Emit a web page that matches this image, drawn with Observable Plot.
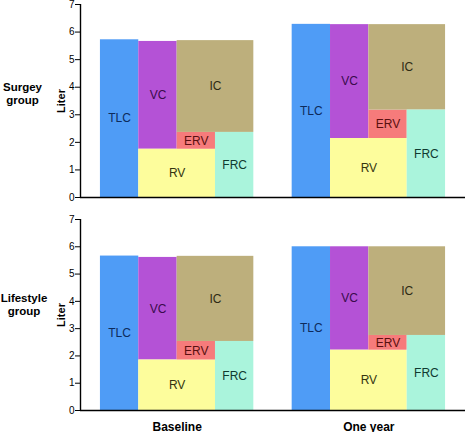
<!DOCTYPE html>
<html>
<head>
<meta charset="utf-8">
<script src="https://cdn.jsdelivr.net/npm/d3@7"></script>
<script src="https://cdn.jsdelivr.net/npm/@observablehq/plot@0.6"></script>
<style>
  html, body { margin: 0; padding: 0; background: #fff; }
  #chart svg { display: block; }
</style>
</head>
<body>
<div id="chart"></div>
<script>
// ---- data ----
const panels = ["Surgey\ngroup", "Lifestyle\ngroup"];
const times = ["Baseline", "One year"];
const volumeNames = ["TLC", "VC", "IC", "ERV", "RV", "FRC"];
const yTicks = [0, 1, 2, 3, 4, 5, 6, 7];
// values indexed [panel][time], litres
const TLC = [[5.72, 6.28], [5.66, 6.00]];
const VC  = [[3.91, 4.13], [3.76, 3.79]];
const IC  = [[3.33, 3.10], [3.12, 3.25]];
const ERV = [[0.61, 1.03], [0.68, 0.54]];
const RV  = [[1.75, 2.14], [1.85, 2.21]];

// ---- styles ----
const fill = {TLC: "#4f9cf6", VC: "#b452d6", IC: "#bdaf7c", ERV: "#f67b7b", RV: "#fdfd9c", FRC: "#aaf4dc"};
const ink  = {TLC: "#0d2b5c", VC: "#3a0b4c", IC: "#2d2a14", ERV: "#5a1010", RV: "#34340f", FRC: "#0f3a30"};
const font = "Liberation Sans, Arial, Helvetica, sans-serif";
const xDomain = [-0.52, 9.52];

function segments(p) {
  const rows = [];
  times.forEach((t, i) => {
    const o = i * 5;
    const rv = RV[p][i], erv = ERV[p][i], ic = IC[p][i], vc = VC[p][i], tlc = TLC[p][i];
    rows.push({name: "TLC", x1: o,     x2: o + 1, y1: 0,        y2: tlc});
    rows.push({name: "VC",  x1: o + 1, x2: o + 2, y1: rv,       y2: rv + vc});
    rows.push({name: "RV",  x1: o + 1, x2: o + 3, y1: 0,        y2: rv});
    rows.push({name: "ERV", x1: o + 2, x2: o + 3, y1: rv,       y2: rv + erv});
    rows.push({name: "IC",  x1: o + 2, x2: o + 4, y1: rv + erv, y2: rv + erv + ic});
    rows.push({name: "FRC", x1: o + 3, x2: o + 4, y1: 0,        y2: rv + erv});
  });
  return rows;
}

function panel(p, opts) {
  const segs = segments(p);
  const marks = [
    Plot.rectY(segs, {x1: "x1", x2: "x2", y1: "y1", y2: "y2", fill: d => fill[d.name], inset: 0}),
    Plot.text(segs, {
      x: d => (d.x1 + d.x2) / 2, y: d => (d.y1 + d.y2) / 2, text: "name",
      fill: d => ink[d.name], fontSize: 12, fontFamily: font
    }),
    Plot.ruleY([0], {stroke: "#000", strokeWidth: 1.4}),
    Plot.ruleX([xDomain[0]], {y1: 0, y2: 7, stroke: "#000", strokeWidth: 1.4}),
    Plot.axisY({ticks: yTicks, tickFormat: d3.format("d"), tickSize: 5, tickPadding: 1, fontSize: 10, fontFamily: font, label: null, stroke: "#000", fill: "#000"}),
    Plot.text(["Liter"], {frameAnchor: "left", textAnchor: "middle", dx: -19, rotate: -90, fontSize: 11, fontWeight: "bold", fontFamily: font, fill: "#000"}),
    Plot.text([panels[p]], {frameAnchor: "left", textAnchor: "middle", dx: opts.labelDx, dy: opts.labelDy, fontSize: 11.5, fontWeight: "bold", fontFamily: font, lineHeight: 1.12, fill: "#000"})
  ];
  if (opts.xLabels) {
    marks.push(Plot.text(times, {
      x: (d, i) => i * 5 + 2, frameAnchor: "bottom", lineAnchor: "top", dy: 11.5,
      fontSize: 12, fontWeight: "bold", fontFamily: font, fill: "#000"
    }));
  }
  return Plot.plot({
    width: 465,
    height: opts.height,
    marginTop: opts.marginTop,
    marginBottom: opts.marginBottom,
    marginLeft: 80,
    marginRight: 0,
    x: {domain: xDomain, axis: null},
    y: {domain: [0, 7], axis: null},
    style: {fontFamily: font, background: "#fff", overflow: "visible"},
    marks
  });
}

const chart = document.getElementById("chart");
chart.appendChild(panel(0, {height: 207, marginTop: 4, marginBottom: 10, labelDx: -58, labelDy: -8, xLabels: false}));
chart.appendChild(panel(1, {height: 225, marginTop: 12, marginBottom: 22, labelDx: -56.5, labelDy: -11, xLabels: true}));
</script>
</body>
</html>
